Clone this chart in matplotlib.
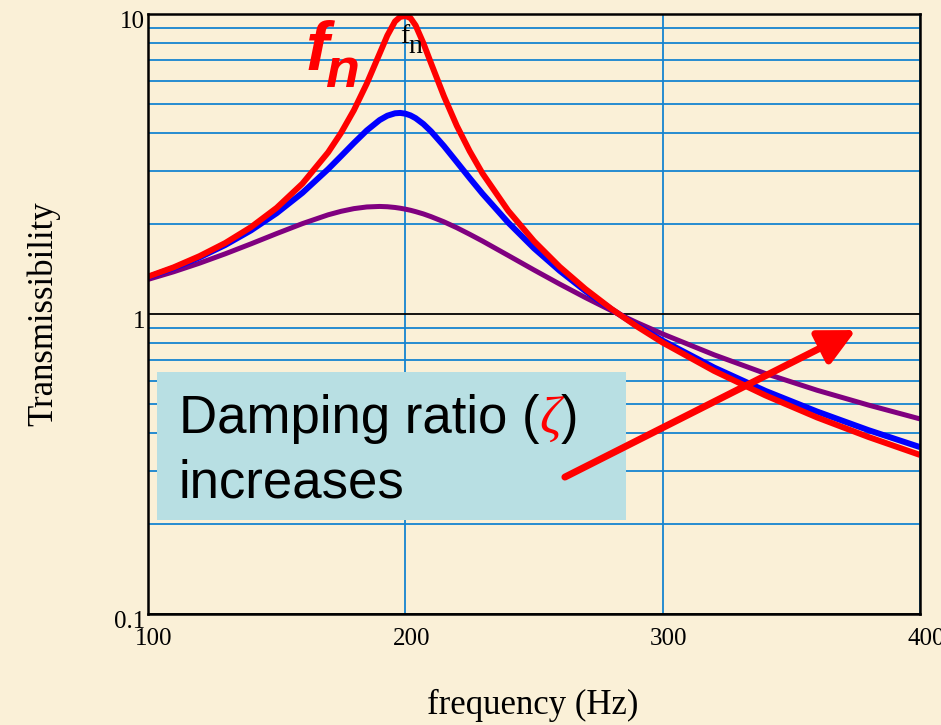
import numpy as np
import matplotlib
matplotlib.use("Agg")
import matplotlib.pyplot as plt
from matplotlib.ticker import LogLocator, NullFormatter
from matplotlib.patches import Rectangle
from matplotlib.transforms import ScaledTranslation

# transmissibility vs frequency for three damping ratios
freq = [100, 110, 120, 130, 140, 150, 160, 170, 175, 180, 185, 190, 193, 196, 198,
        200, 202, 204, 207, 210, 215, 220, 225, 230, 240, 250, 260, 270, 280, 290,
        300, 320, 340, 360, 380, 400]
t_low = [1.332, 1.431, 1.559, 1.724, 1.947, 2.259, 2.720, 3.458, 4.013, 4.776, 5.857,
         7.379, 8.478, 9.45, 9.78, 9.85, 9.70, 9.16, 8.00, 6.85, 5.32, 4.24, 3.49,
         2.94, 2.208, 1.749, 1.436, 1.211, 1.041, 0.909, 0.803, 0.646, 0.535, 0.452,
         0.389, 0.339]
t_mid = [1.327, 1.423, 1.544, 1.698, 1.899, 2.168, 2.534, 3.040, 3.358, 3.715, 4.090,
         4.430, 4.581, 4.667, 4.680, 4.654, 4.592, 4.495, 4.299, 4.061, 3.630, 3.211,
         2.838, 2.517, 2.016, 1.656, 1.393, 1.193, 1.038, 0.915, 0.815, 0.663, 0.554,
         0.473, 0.410, 0.360]
t_high = [1.304, 1.383, 1.477, 1.587, 1.713, 1.854, 2.001, 2.141, 2.199, 2.245, 2.274,
          2.283, 2.278, 2.265, 2.252, 2.236, 2.217, 2.194, 2.156, 2.111, 2.029, 1.939,
          1.844, 1.750, 1.567, 1.402, 1.258, 1.134, 1.027, 0.936, 0.858, 0.731, 0.633,
          0.557, 0.497, 0.447]

x_ticks = [100, 200, 300, 400]
x_labels = ["100", "200", "300", "400"]
y_ticks = [0.1, 1, 10]
y_labels = ["0.1", "1", "10"]

bg = "#FAF0D7"
grid_blue = "#1584D0"
serif = ["Liberation Serif", "DejaVu Serif"]

fig = plt.figure(figsize=(9.41, 7.25), dpi=100, facecolor=bg)
ax = fig.add_axes([148 / 941, 1 - 614 / 725, 772 / 941, 600 / 725])
ax.set_facecolor(bg)
ax.set_yscale("log")
ax.set_xlim(100, 400)
ax.set_ylim(0.1, 10)

ax.set_xticks(x_ticks)
ax.set_xticklabels(x_labels)
ax.set_yticks(y_ticks)
ax.set_yticklabels(y_labels)
ax.yaxis.set_minor_locator(LogLocator(base=10, subs=np.arange(2, 10)))
ax.yaxis.set_minor_formatter(NullFormatter())

ax.set_axisbelow(True)
ax.grid(axis="x", which="major", color=grid_blue, lw=1.3)
ax.grid(axis="y", which="minor", color=grid_blue, lw=1.3)
ax.grid(axis="y", which="major", color="black", lw=1.3)
for s in ax.spines.values():
    s.set_linewidth(1.8)
    s.set_zorder(4)

ax.tick_params(which="both", length=0)
ax.tick_params(axis="x", pad=10, labelsize=18)
ax.tick_params(axis="y", pad=2, labelsize=18)
for lbl in ax.get_xticklabels() + ax.get_yticklabels():
    lbl.set_fontfamily(serif)
for lbl in ax.get_xticklabels():
    lbl.set_transform(lbl.get_transform() + ScaledTranslation(6 / 100, 0, fig.dpi_scale_trans))
for lbl in ax.get_yticklabels():
    lbl.set_transform(lbl.get_transform() + ScaledTranslation(0, -5 / 100, fig.dpi_scale_trans))

# curves
ax.plot(freq, t_high, color="#800080", lw=3.6, zorder=2, solid_capstyle="butt")
ax.plot(freq, t_mid, color="#0000FF", lw=4.3, zorder=2.1, solid_capstyle="butt")
ax.plot(freq, t_low, color="#FF0000", lw=4.3, zorder=2.2, solid_capstyle="butt")

# annotation box
ax.add_patch(Rectangle((0.0117, 0.1567), 0.6075, 0.2466, transform=ax.transAxes,
                       facecolor="#B8DFE3", edgecolor="none", zorder=1))
t1 = ax.text(0.040, 0.3017, "Damping ratio (", transform=ax.transAxes, fontsize=38,
             family="Liberation Sans", va="baseline", ha="left", zorder=3)
t2 = ax.annotate("\u03b6", xy=(1, 0), xycoords=t1, fontsize=38, color="red",
                 family=serif, style="italic", va="bottom", ha="left", zorder=3)
ax.annotate(")", xy=(1, 0), xycoords=t2, fontsize=38, family="Liberation Sans",
            va="bottom", ha="left", zorder=3)
ax.text(0.040, 0.195, "increases", transform=ax.transAxes, fontsize=38,
        family="Liberation Sans", va="baseline", ha="left", zorder=3)

ax.annotate("", xy=(375.1, 0.884), xytext=(262.0, 0.286),
            arrowprops=dict(arrowstyle="-|>,head_length=1.0,head_width=0.5",
                            color="red", lw=5, mutation_scale=22, shrinkA=0, shrinkB=0),
            zorder=5)

# natural frequency marks
ax.text(0.204, 0.9067, "f", transform=ax.transAxes, fontsize=50, color="red",
        family="Liberation Sans", weight="bold", style="italic", va="baseline")
ax.text(0.229, 0.878, "n", transform=ax.transAxes, fontsize=40, color="red",
        family="Liberation Sans", weight="bold", style="italic", va="baseline")
ax.text(0.3264, 0.9517, "f", transform=ax.transAxes, fontsize=20, family=serif,
        va="baseline", zorder=3)
ax.text(0.3368, 0.935, "n", transform=ax.transAxes, fontsize=20, family=serif,
        va="baseline", zorder=3)

fig.text(533 / 941, 1 - 705 / 725, "frequency (Hz)", fontsize=25, family=serif,
         ha="center", va="center")
fig.text(44 / 941, 1 - 314 / 725, "Transmissibility", fontsize=25, family=serif,
         rotation=90, ha="center", va="center")

fig.savefig("out.png", dpi=100, facecolor=bg)
